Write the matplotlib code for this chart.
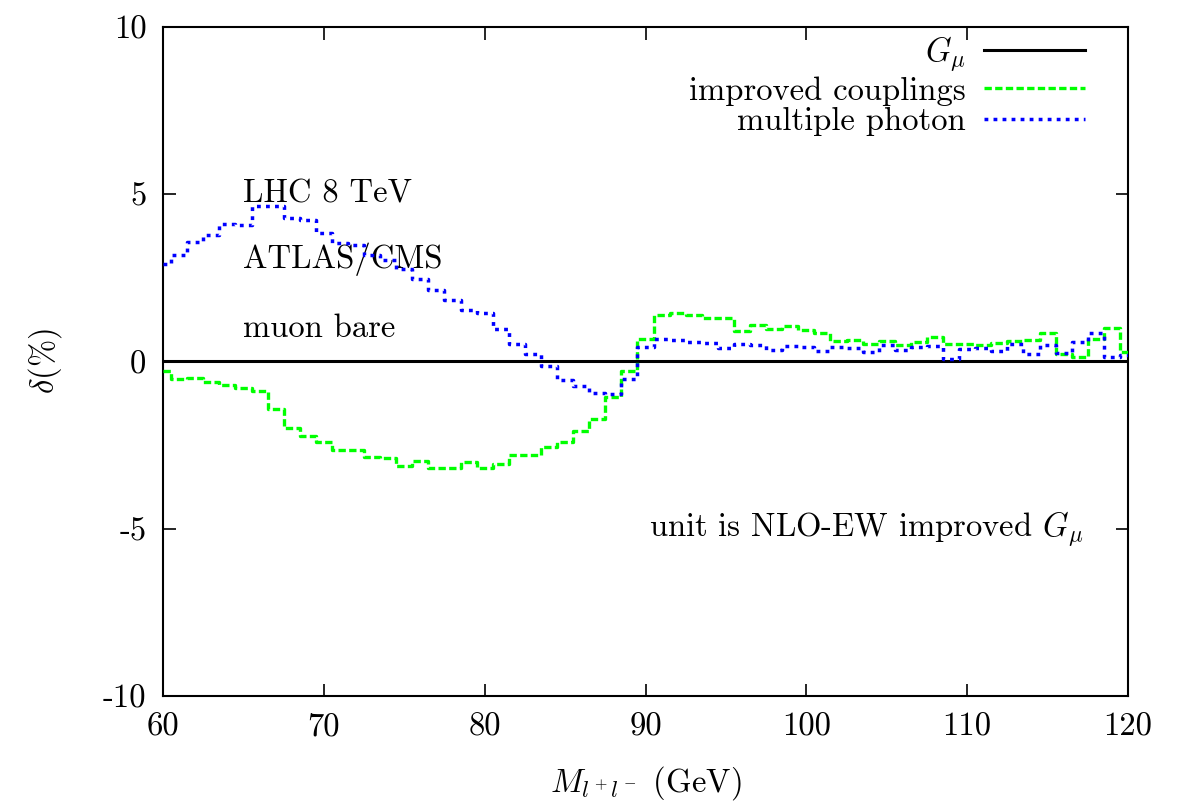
import matplotlib
matplotlib.use('Agg')
import matplotlib.pyplot as plt

plt.rcParams['font.family'] = 'cmr10'
plt.rcParams['mathtext.fontset'] = 'cm'
plt.rcParams['axes.unicode_minus'] = False

# invariant mass bin centres (GeV)
mass = list(range(60, 121))

# relative deviation in % w.r.t. NLO-EW improved G_mu
improved = [-0.27, -0.52, -0.48, -0.62, -0.70, -0.79, -0.87, -1.42, -1.99, -2.24,
            -2.40, -2.66, -2.66, -2.86, -2.89, -3.11, -2.97, -3.17, -3.17, -2.99,
            -3.17, -3.05, -2.81, -2.81, -2.57, -2.42, -2.07, -1.71, -1.05, -0.27,
            0.66, 1.38, 1.45, 1.38, 1.29, 1.29, 0.91, 1.08, 0.98, 1.05,
            0.93, 0.86, 0.60, 0.63, 0.51, 0.60, 0.50, 0.57, 0.74, 0.52,
            0.52, 0.50, 0.54, 0.62, 0.64, 0.84, 0.22, 0.12, 0.67, 1.00,
            0.27]
multiphoton = [2.92, 3.17, 3.57, 3.79, 4.12, 4.09, 4.64, 4.64, 4.29, 4.22,
               3.85, 3.55, 3.49, 3.17, 3.02, 2.77, 2.46, 2.13, 1.83, 1.53,
               1.45, 0.98, 0.53, 0.23, -0.12, -0.54, -0.74, -0.94, -0.97, -0.52,
               0.43, 0.68, 0.65, 0.58, 0.56, 0.40, 0.53, 0.48, 0.33, 0.45,
               0.43, 0.30, 0.43, 0.40, 0.28, 0.50, 0.34, 0.42, 0.47, 0.07,
               0.37, 0.40, 0.32, 0.52, 0.22, 0.49, 0.24, 0.57, 0.84, 0.12,
               0.19]
gmu = [0.0] * len(mass)

xticks = [60, 70, 80, 90, 100, 110, 120]
yticks = [-10, -5, 0, 5, 10]
ytick_labels = ['-10', '-5', '0', '5', '10']

fs = 23.5

fig = plt.figure(figsize=(11.85, 8.08), dpi=100)
ax = fig.add_axes([0.1376, 0.1386, 0.8143, 0.8280])

ax.step(mass, gmu, where='mid', color='black', lw=2.2, label=r'$G_\mu$', zorder=2)
ax.step(mass, improved, where='mid', color='#00ff00', lw=2.4,
        linestyle=(0, (2.2, 1.0)), label='improved couplings', zorder=3)
ax.step(mass, multiphoton, where='mid', color='#0000ff', lw=2.5,
        linestyle=(0, (1.1, 1.5)), label='multiple photon', zorder=4)

ax.set_xlim(60, 120)
ax.set_ylim(-10, 10)
ax.set_xticks(xticks)
ax.set_yticks(yticks)
ax.set_yticklabels(ytick_labels)
ax.tick_params(direction='in', top=True, right=True, length=9, width=1.2,
               labelsize=fs, pad=12)
for sp in ax.spines.values():
    sp.set_linewidth(1.5)

ax.set_xlabel(r'$M_{l^+l^-}$ (GeV)', fontsize=fs, labelpad=16)
ax.set_ylabel(r'$\delta$(%)', fontsize=fs, labelpad=28)

ax.text(65, 5.0, 'LHC 8 TeV', fontsize=fs, va='center', ha='left')
ax.text(65, 3.05, 'ATLAS/CMS', fontsize=fs, va='center', ha='left')
ax.text(65, 1.0, 'muon bare', fontsize=fs, va='center', ha='left')
ax.text(117.2, -5.0, r'unit is NLO-EW improved $G_\mu$', fontsize=fs,
        va='center', ha='right')

ax.legend(loc='upper right', frameon=False, markerfirst=False, fontsize=fs,
          handlelength=3.1, handletextpad=0.55, labelspacing=0.05,
          borderaxespad=0.0, bbox_to_anchor=(0.969, 1.008))

fig.savefig('out.png', dpi=100)
